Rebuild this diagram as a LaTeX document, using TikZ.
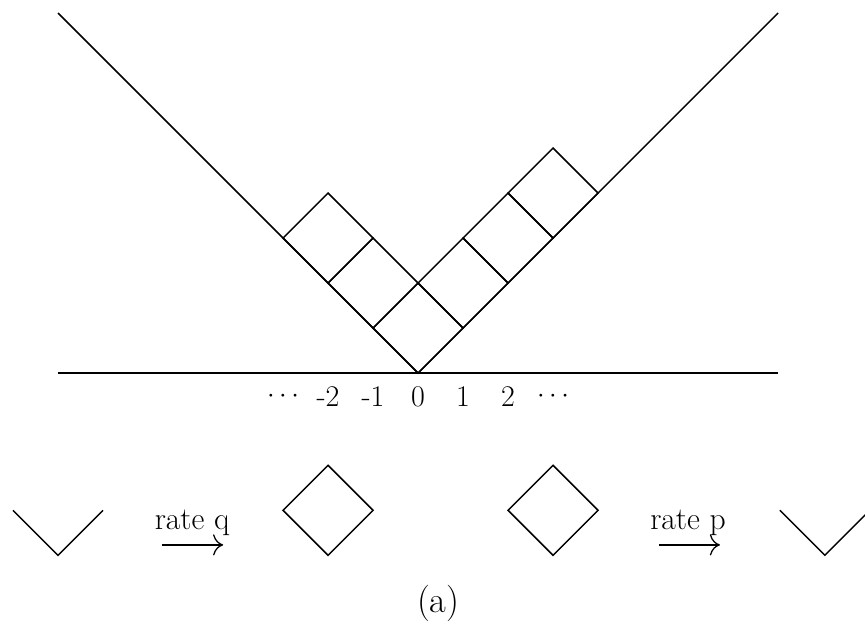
\documentclass[tikz,border=0pt]{standalone}
\usepackage{tikz}
\usetikzlibrary{arrows.meta}

\tikzset{
  edge/.style={line width=0.9pt, line join=miter},
  cell/.style={edge},
  site/.style={font=\fontsize{19}{21}\selectfont, inner sep=1pt},
  ratelabel/.style={font=\fontsize{20}{22}\selectfont, inner sep=1pt},
  ratearrow/.style={line width=0.8pt, -{Computer Modern Rightarrow[scale=1.9]}}
}

\begin{document}
\begin{tikzpicture}
  \useasboundingbox (-9.289,-5.844) rectangle (9.933,8.289);
  % ground line and wedge
  \draw[edge] (-8,0) -- (8,0);
  \draw[edge] (-8,8) -- (0,0) -- (8,8);
  % tiles sitting in the wedge
  \foreach \u/\v in {0/0, 0/1, 0/2, 1/0, 2/0, 3/0}
    \draw[cell] (\u-\v,\u+\v) -- ++(1,1) -- ++(-1,1) -- ++(-1,-1) -- cycle;
  % site labels
  \node[site] (lm) at (-3,-0.53) {$\cdots$};
  \node[site] (m2) at (-2,-0.53) {-2};
  \node[site] (m1) at (-1,-0.53) {-1};
  \node[site] (s0) at (0,-0.53) {0};
  \node[site] (p1) at (1,-0.53) {1};
  \node[site] (p2) at (2,-0.53) {2};
  \node[site] (rm) at (3,-0.53) {$\cdots$};

  % deposition and evaporation moves
  \draw[edge] (-9,-3.05) -- (-8,-4.05) -- (-7,-3.05);
  \node[ratelabel] (rq) at (-5.02,-3.33) {rate q};
  \coordinate (q0) at (-5.69,-3.82);
  \coordinate (q1) at (-4.33,-3.82);
  \draw[ratearrow] (q0) -- (q1);
  \draw[cell] (-2,-4.05) -- ++(1,1) -- ++(-1,1) -- ++(-1,-1) -- cycle;

  \draw[cell] (3,-4.05) -- ++(1,1) -- ++(-1,1) -- ++(-1,-1) -- cycle;
  \node[ratelabel] (rp) at (6.0,-3.33) {rate p};
  \coordinate (p0) at (5.36,-3.82);
  \coordinate (pe) at (6.71,-3.82);
  \draw[ratearrow] (p0) -- (pe);
  \draw[edge] (8.04,-3.05) -- (9.04,-4.05) -- (10.04,-3.05);

  \node[font=\fontsize{23}{25}\selectfont] (cap) at (0.45,-5.11) {(a)};
\end{tikzpicture}
\end{document}
